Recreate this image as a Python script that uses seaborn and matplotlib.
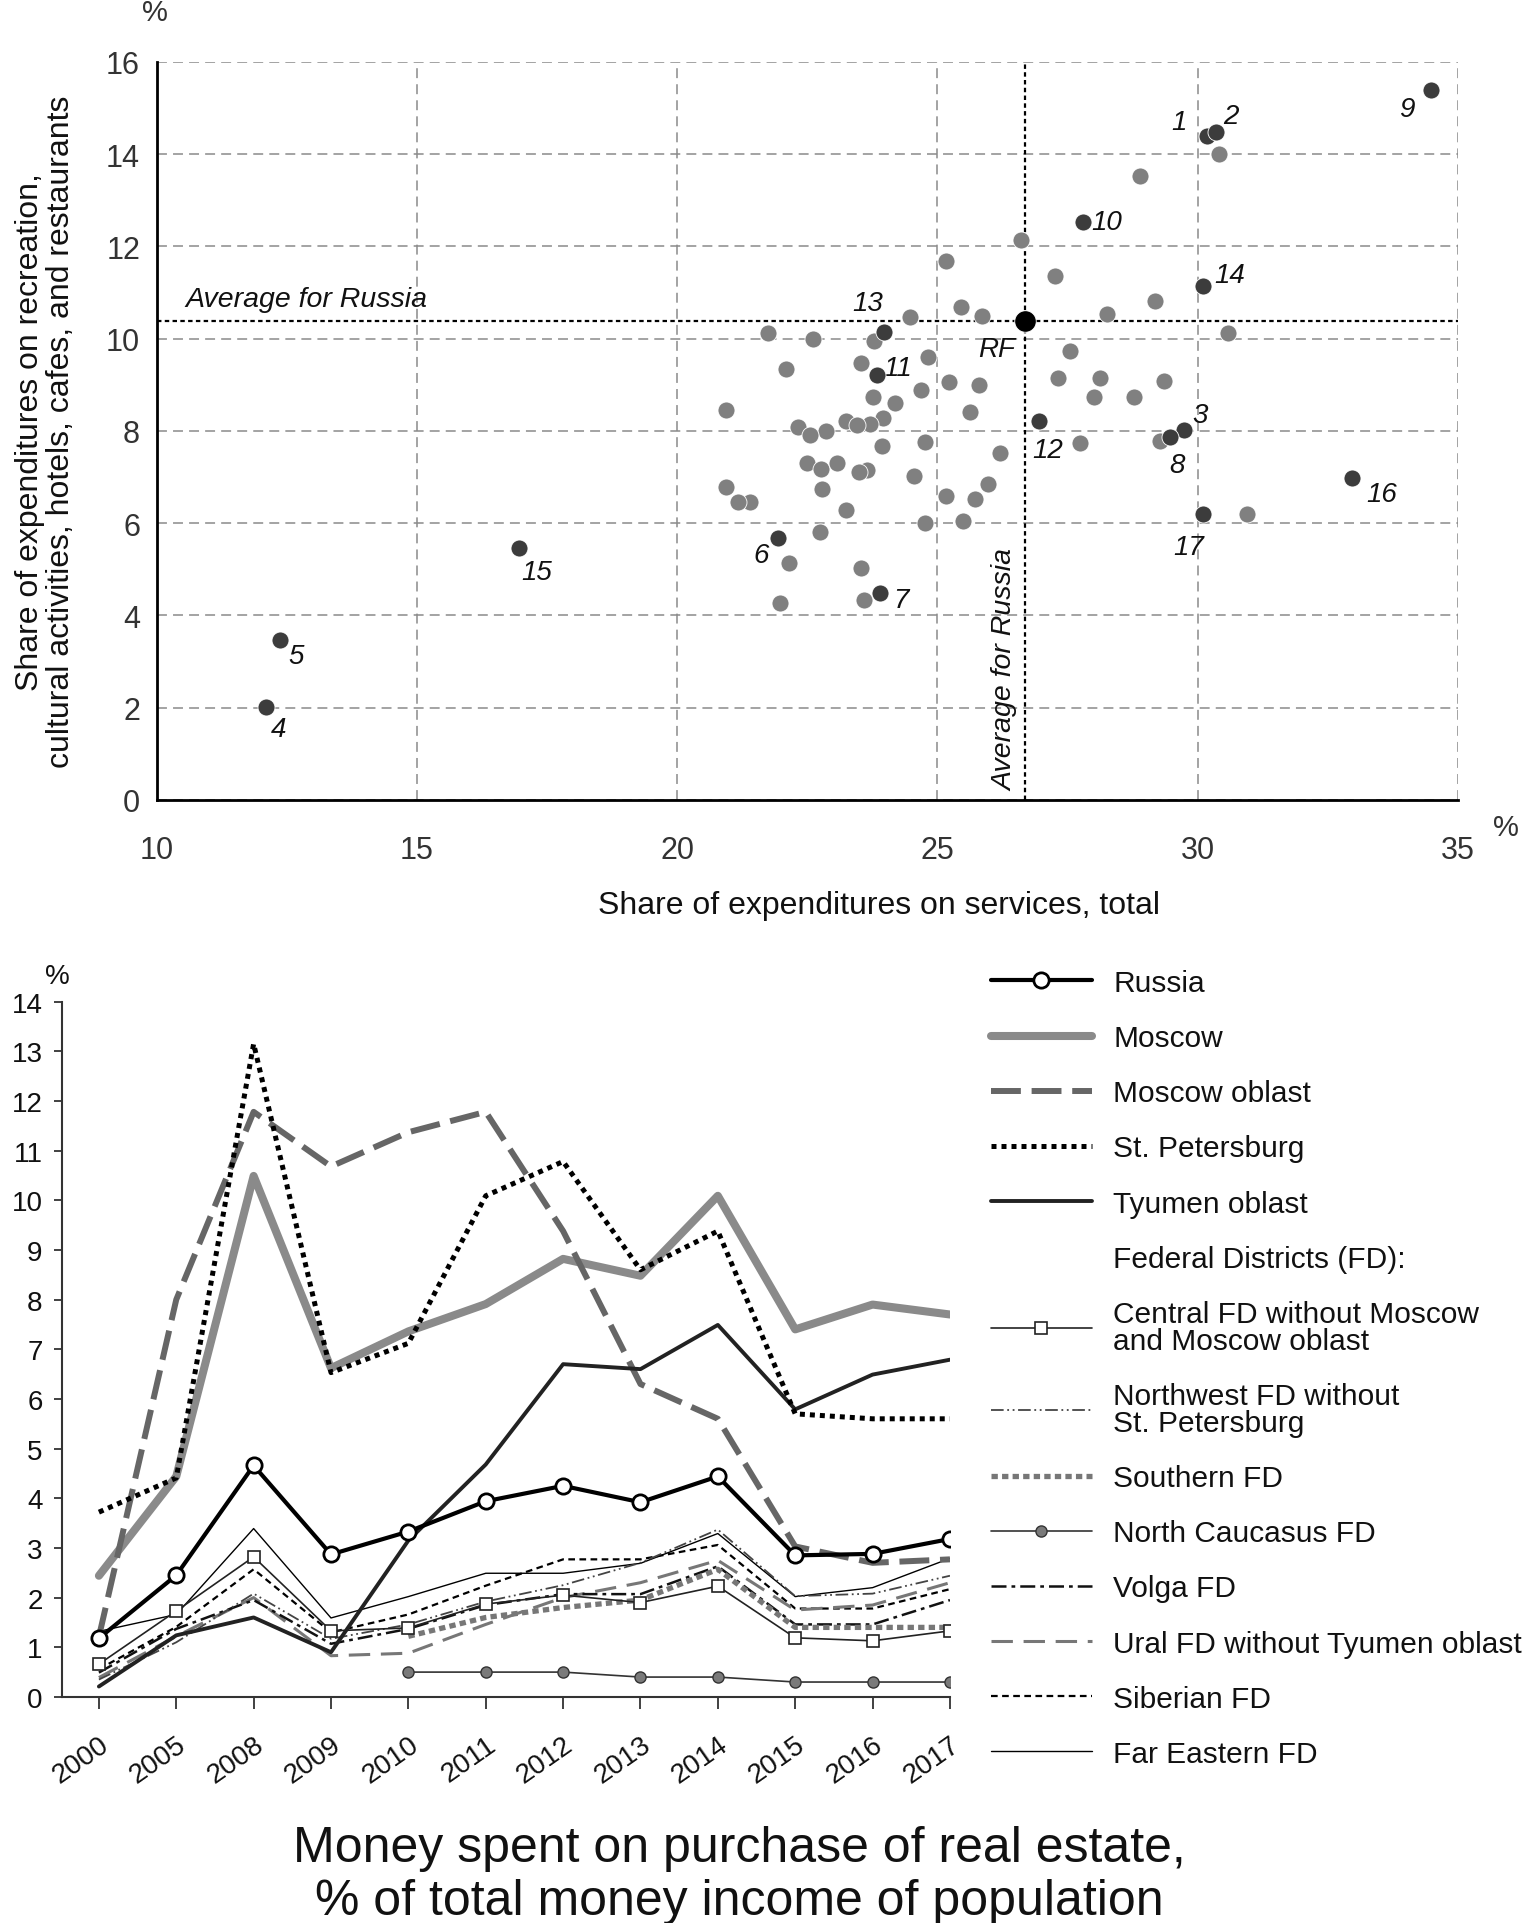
import numpy as np
import matplotlib
matplotlib.use("Agg")
import matplotlib.pyplot as plt
from matplotlib.lines import Line2D
import seaborn as sns

# ---------------- Scatter data (top chart) ----------------
grey_x = [30.41, 28.89,
          26.61, 25.16, 27.25, 29.18, 25.45, 25.85, 28.25, 30.58, 27.55, 25.22, 25.80,
          27.31, 28.13, 29.35, 28.01, 28.77, 25.63, 29.28, 27.73, 26.20, 25.97, 25.16,
          25.73, 25.50, 30.94,
          24.47, 21.75, 22.61, 23.78, 22.09, 23.54, 24.82, 24.69, 23.77, 24.19, 20.93,
          23.96, 23.25, 23.71, 22.33, 22.85, 22.56, 23.45, 24.76, 23.94, 22.49, 22.77,
          23.07, 23.65, 23.49, 24.54, 20.93, 21.39, 21.16, 22.79, 23.25, 24.76, 22.74,
          22.15, 23.54, 23.58, 21.98]
grey_y = [14.00, 13.52,
          12.15, 11.69, 11.35, 10.82, 10.68, 10.50, 10.54, 10.13, 9.74, 9.07, 9.00,
          9.14, 9.14, 9.08, 8.73, 8.73, 8.41, 7.79, 7.73, 7.53, 6.86, 6.60,
          6.53, 6.05, 6.20,
          10.48, 10.13, 10.00, 9.94, 9.34, 9.47, 9.61, 8.88, 8.74, 8.61, 8.46,
          8.28, 8.21, 8.15, 8.08, 7.99, 7.92, 8.12, 7.75, 7.68, 7.31, 7.17,
          7.31, 7.16, 7.10, 7.03, 6.78, 6.46, 6.46, 6.74, 6.28, 6.01, 5.81,
          5.13, 5.02, 4.33, 4.28]

region_ids = ["1", "2", "3", "4", "5", "6", "7", "8", "9", "10",
              "11", "12", "13", "14", "15", "16", "17"]
region_x = [30.18, 30.35, 29.73, 12.10, 12.36, 21.93, 23.90, 29.47, 34.49, 27.79,
            23.84, 26.96, 23.98, 30.11, 16.96, 32.97, 30.11]
region_y = [14.40, 14.47, 8.02, 2.01, 3.46, 5.68, 4.49, 7.87, 15.39, 12.54,
            9.21, 8.21, 10.15, 11.15, 5.46, 6.97, 6.20]

rf_x = [26.68]
rf_y = [10.38]

x_ticks = [10, 15, 20, 25, 30, 35]
y_ticks = [0, 2, 4, 6, 8, 10, 12, 14, 16]

# ---------------- Line data (bottom chart) ----------------
years = ["2000", "2005", "2008", "2009", "2010", "2011", "2012",
         "2013", "2014", "2015", "2016", "2017"]
russia = [1.18, 2.45, 4.66, 2.87, 3.33, 3.94, 4.25, 3.92, 4.44, 2.85, 2.88, 3.18]
moscow = [2.44, 4.44, 10.49, 6.62, 7.36, 7.91, 8.82, 8.48, 10.09, 7.40, 7.90, 7.70]
moscow_oblast = [1.21, 8.00, 11.78, 10.68, 11.37, 11.78, 9.38, 6.30, 5.60, 3.03, 2.70, 2.77]
st_petersburg = [3.72, 4.41, 13.15, 6.53, 7.12, 10.09, 10.78, 8.60, 9.38, 5.70, 5.60, 5.60]
tyumen = [0.21, 1.24, 1.60, 0.90, 3.15, 4.68, 6.70, 6.60, 7.49, 5.79, 6.49, 6.79]
central_fd = [0.66, 1.73, 2.82, 1.33, 1.39, 1.87, 2.05, 1.90, 2.23, 1.19, 1.13, 1.33]
northwest_fd = [0.35, 1.10, 2.08, 1.17, 1.46, 1.92, 2.25, 2.70, 3.37, 2.03, 2.08, 2.44]
southern_fd = [1.22, 1.60, 1.80, 1.95, 2.57, 1.40, 1.40, 1.40]          # 2010-2017
north_caucasus_fd = [0.50, 0.50, 0.50, 0.40, 0.40, 0.30, 0.30, 0.30]    # 2010-2017
volga_fd = [0.49, 1.37, 1.95, 1.07, 1.37, 1.85, 2.07, 2.07, 2.63, 1.46, 1.46, 1.95]
ural_fd = [0.39, 1.22, 2.00, 0.83, 0.88, 1.46, 2.00, 2.30, 2.75, 1.75, 1.85, 2.30]
siberian_fd = [0.56, 1.41, 2.57, 1.30, 1.66, 2.24, 2.77, 2.77, 3.06, 1.78, 1.78, 2.17]
far_eastern_fd = [1.32, 1.66, 3.39, 1.59, 2.02, 2.49, 2.49, 2.69, 3.29, 2.02, 2.20, 2.79]

legend_labels = ["Russia", "Moscow", "Moscow oblast", "St. Petersburg", "Tyumen oblast",
                 "Federal Districts (FD):",
                 "Central FD without Moscow\nand Moscow oblast",
                 "Northwest FD without\nSt. Petersburg",
                 "Southern FD", "North Caucasus FD", "Volga FD",
                 "Ural FD without Tyumen oblast", "Siberian FD", "Far Eastern FD"]

# ---------------- Styling ----------------
sns.set_style("white")
plt.rcParams['font.family'] = ['Liberation Sans', 'DejaVu Sans']

fig = plt.figure(figsize=(15.27, 19.24), dpi=100)
fig.patch.set_facecolor("white")

# ======== Top: scatter ========
ax1 = fig.add_axes([0.1026, 0.5837, 0.8522, 0.3836])
ax1.set_xlim(10, 35)
ax1.set_ylim(0, 16)
ax1.set_xticks(x_ticks)
ax1.set_yticks(y_ticks)
ax1.grid(True, color="#8a8a8a", linestyle=(0, (6.5, 4)), linewidth=1.1)
ax1.set_axisbelow(True)
for s in ["top", "right"]:
    ax1.spines[s].set_visible(False)
for s in ["left", "bottom"]:
    ax1.spines[s].set_color("black")
    ax1.spines[s].set_linewidth(2.0)
ax1.tick_params(axis="both", length=0, labelsize=22, labelcolor="#333333")
ax1.tick_params(axis="x", pad=25)
ax1.tick_params(axis="y", pad=12)

# average lines
ax1.axhline(rf_y[0], color="black", linestyle=(0, (2, 1.5)), linewidth=1.6, zorder=2)
ax1.axvline(rf_x[0], color="black", linestyle=(0, (2, 1.5)), linewidth=1.6, zorder=2)

sns.scatterplot(x=grey_x, y=grey_y, ax=ax1, color="#808080", s=150,
                edgecolor="white", linewidth=0.6, zorder=3, legend=False)
sns.scatterplot(x=region_x, y=region_y, ax=ax1, color="#3c3c3c", s=150,
                edgecolor="white", linewidth=0.6, zorder=4, legend=False)
sns.scatterplot(x=rf_x, y=rf_y, ax=ax1, color="black", s=240,
                edgecolor="white", linewidth=0.6, zorder=5, legend=False)

label_offsets = {"1": (-20, 10), "2": (11, 12), "3": (12, 11), "4": (9, -16),
                 "5": (12, -11), "6": (-12, -12), "7": (15, -5), "8": (5, -20),
                 "9": (-18, -14), "10": (17, 0), "11": (15, 5), "12": (6, -21),
                 "13": (-12, 21), "14": (19, 8), "15": (13, -17), "16": (21, -11),
                 "17": (-11, -24)}
for rid, xv, yv in zip(region_ids, region_x, region_y):
    ax1.annotate(rid, (xv, yv), xytext=label_offsets[rid], textcoords="offset points",
                 ha="center", va="center", fontsize=20, style="italic", color="#111111")
ax1.annotate("RF", (rf_x[0], rf_y[0]), xytext=(-20, -20), textcoords="offset points",
             ha="center", va="center", fontsize=20, style="italic", color="#111111")

ax1.text(10.56, 10.86, "Average for Russia", fontsize=20.5, style="italic",
         ha="left", va="center", color="#111111")
ax1.text(26.30, 0.22, "Average for Russia", fontsize=20.5, style="italic",
         ha="center", va="bottom", rotation=90, color="#111111")

ax1.set_xlabel("Share of expenditures on services, total", fontsize=23, color="#111111")
ax1.xaxis.set_label_coords(0.555, -0.122)
ax1.set_ylabel("Share of expenditures on recreation,\ncultural activities, hotels, cafes, and restaurants",
               fontsize=23, color="#111111", linespacing=1.05)
ax1.yaxis.set_label_coords(-0.062, 0.5)

fig.text(0.1015, 0.9932, "%", fontsize=21, ha="center", va="center", color="#333333")
fig.text(0.9863, 0.5696, "%", fontsize=21, ha="center", va="center", color="#333333")

# ======== Bottom: lines ========
ax2 = fig.add_axes([0.0406, 0.1175, 0.5815, 0.3614])
xs = np.arange(len(years))
xs10 = xs[4:]


def add_line(x, y, **kw):
    sns.lineplot(x=x, y=y, ax=ax2, sort=False, legend=False, **kw)
    return ax2.lines[-1]


h_far = add_line(xs, far_eastern_fd, color="black", linewidth=1.0)
h_sib = add_line(xs, siberian_fd, color="black", linewidth=1.6, linestyle=(0, (3, 2)))
h_ural = add_line(xs, ural_fd, color="#777777", linewidth=2.2, linestyle=(0, (7, 3.5)))
h_volga = add_line(xs, volga_fd, color="#111111", linewidth=1.8, linestyle=(0, (6, 2, 1.5, 2)))
h_nc = add_line(xs10, north_caucasus_fd, color="#333333", linewidth=1.2, marker="o",
                markersize=8, markerfacecolor="#7a7a7a", markeredgecolor="#333333",
                markeredgewidth=1.0)
h_south = add_line(xs10, southern_fd, color="#777777", linewidth=3.8, linestyle=(0, (1.2, 0.8)))
h_nw = add_line(xs, northwest_fd, color="#444444", linewidth=1.3,
                linestyle=(0, (7, 2, 1, 2, 1, 2)))
h_central = add_line(xs, central_fd, color="#222222", linewidth=1.2, marker="s",
                     markersize=8, markerfacecolor="white", markeredgecolor="#222222",
                     markeredgewidth=1.2)
h_moscow = add_line(xs, moscow, color="#8a8a8a", linewidth=5.8)
h_mobl = add_line(xs, moscow_oblast, color="#666666", linewidth=4.3, linestyle=(0, (5, 1.8)))
h_tyumen = add_line(xs, tyumen, color="#222222", linewidth=2.8)
h_spb = add_line(xs, st_petersburg, color="black", linewidth=3.6, linestyle=(0, (1, 1)))
h_russia = add_line(xs, russia, color="black", linewidth=3.0, marker="o", markersize=11,
                    markerfacecolor="white", markeredgecolor="black", markeredgewidth=2.0)

ax2.set_xlim(-0.477, 11.0)
ax2.set_ylim(0, 14)
ax2.set_yticks(range(0, 15))
ax2.set_xticks(xs)
ax2.set_xticklabels(years, rotation=35, ha="right", rotation_mode="anchor")
for s in ["top", "right"]:
    ax2.spines[s].set_visible(False)
for s in ["left", "bottom"]:
    ax2.spines[s].set_color("#333333")
    ax2.spines[s].set_linewidth(1.5)
ax2.tick_params(axis="both", which="both", direction="out", color="#333333",
                labelsize=20, labelcolor="#111111", width=1.3)
ax2.tick_params(axis="y", length=6, pad=8, left=True)
ax2.tick_params(axis="x", length=8.5, pad=16, bottom=True)
ax2.set_xlabel("")
ax2.set_ylabel("")
fig.text(0.0373, 0.4922, "%", fontsize=20, ha="center", va="center", color="#111111")

blank = Line2D([], [], color="none")
leg_handles = [h_russia, h_moscow, h_mobl, h_spb, h_tyumen, blank, h_central, h_nw,
               h_south, h_nc, h_volga, h_ural, h_sib, h_far]
leg = fig.legend(leg_handles, legend_labels, loc="upper left",
                 bbox_to_anchor=(0.6488, 0.4959), frameon=False, fontsize=21.5,
                 handlelength=3.4, handletextpad=0.7, labelspacing=0.91,
                 borderpad=0, borderaxespad=0, numpoints=1)
for t in leg.get_texts():
    t.set_linespacing(0.95)
    t.set_color("#111111")

fig.text(0.484, 0.0250, "Money spent on purchase of real estate,\n% of total money income of population",
         fontsize=36, ha="center", va="center", color="#111111", linespacing=1.2)

fig.savefig("out.png", dpi=100, facecolor="white")
